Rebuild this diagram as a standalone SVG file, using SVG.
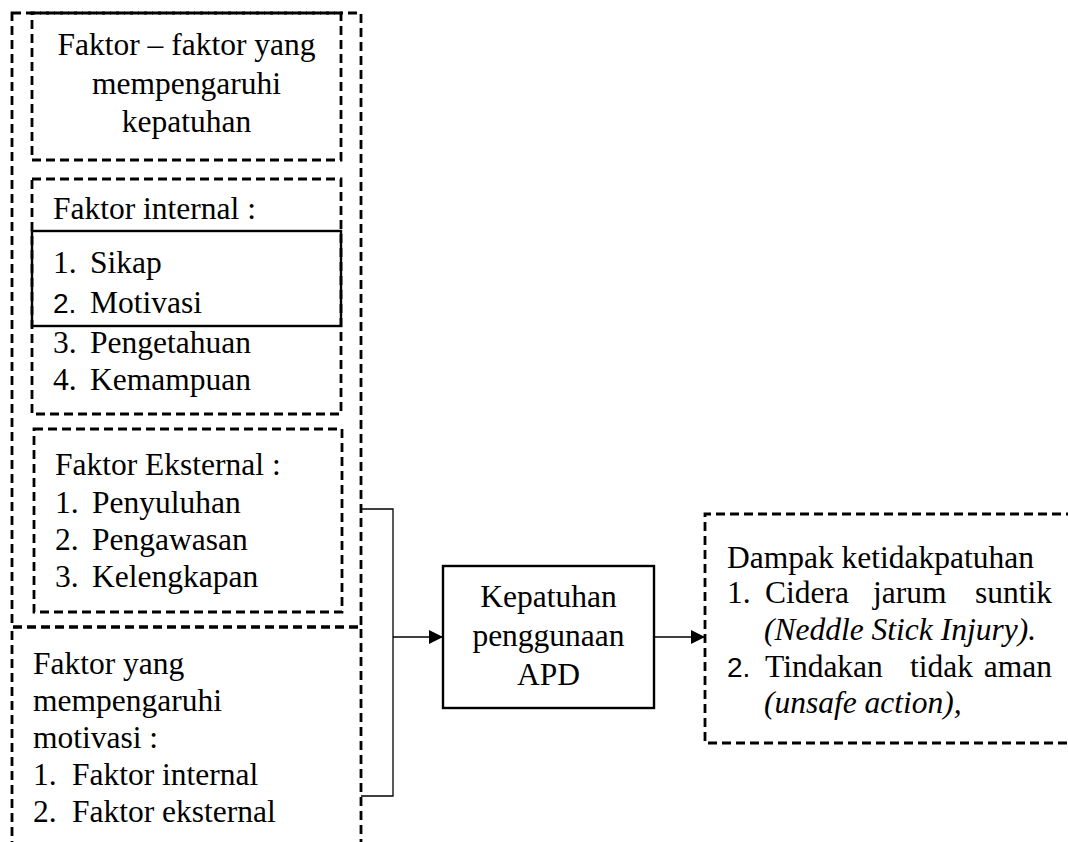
<svg xmlns="http://www.w3.org/2000/svg" width="1068" height="842" viewBox="0 0 1068 842">
<style>
.d{fill:none;stroke:#000;stroke-width:2.8;stroke-dasharray:9 5}
.s{fill:none;stroke:#000;stroke-width:2.4}
.c{fill:none;stroke:#000;stroke-width:1.3}
text{font-family:'Liberation Serif','Times New Roman',Tinos,'DejaVu Serif',serif;font-size:31.5px;fill:#000}
.m{text-anchor:middle}
.e{text-anchor:end}
.i{font-style:italic}
.n{font-family:'Liberation Sans',Arial,sans-serif;font-size:28px}
</style>
<defs>
<marker id="ah" viewBox="0 0 10 10" refX="10" refY="5" markerWidth="14" markerHeight="14" markerUnits="userSpaceOnUse" orient="auto">
<path d="M0,0 L10,5 L0,10 z" fill="#000"/>
</marker>
</defs>
<rect width="1068" height="842" fill="#fff"/>
<g id="outer">
<rect class="d" x="12" y="13" width="349" height="614"/>
</g>
<g id="box-kepatuhan-faktor">
<rect class="d" x="32" y="13" width="309" height="147"/>
<text class="m" x="186.5" y="55">Faktor – faktor yang</text>
<text class="m" x="186.5" y="94">mempengaruhi</text>
<text class="m" x="186.5" y="132">kepatuhan</text>
</g>
<g id="box-internal">
<rect class="d" x="32" y="179" width="309" height="235"/>
<rect class="s" x="32" y="231" width="309" height="95"/>
<text x="53" y="219">Faktor internal :</text>
<text x="53" y="273">1.</text><text x="90" y="273">Sikap</text>
<text class="n" x="53" y="313">2.</text><text x="90" y="313">Motivasi</text>
<text x="53" y="353">3.</text><text x="90" y="353">Pengetahuan</text>
<text x="53" y="390">4.</text><text x="90" y="390">Kemampuan</text>
</g>
<g id="box-eksternal">
<rect class="d" x="34" y="429" width="308" height="183"/>
<text x="55" y="475">Faktor Eksternal :</text>
<text x="55" y="513">1.</text><text x="92" y="513">Penyuluhan</text>
<text x="55" y="550">2.</text><text x="92" y="550">Pengawasan</text>
<text x="55" y="587">3.</text><text x="92" y="587">Kelengkapan</text>
</g>
<g id="box-motivasi">
<path class="d" d="M12,850 V627 H361 V850"/>
<text x="33" y="674">Faktor yang</text>
<text x="33" y="711">mempengaruhi</text>
<text x="33" y="748">motivasi  :</text>
<text x="33" y="785">1.</text><text x="72" y="785">Faktor internal</text>
<text x="33" y="822">2.</text><text x="72" y="822">Faktor eksternal</text>
</g>
<g id="box-apd">
<rect class="s" x="443" y="566" width="211" height="142"/>
<text class="m" x="548.5" y="607">Kepatuhan</text>
<text class="m" x="548.5" y="646">penggunaan</text>
<text class="m" x="548.5" y="685">APD</text>
</g>
<g id="box-dampak">
<path class="d" d="M1075,514 H705 V743 H1075"/>
<text x="727" y="568">Dampak ketidakpatuhan</text>
<text x="727" y="603">1.</text><text x="765" y="603">Cidera</text><text x="873" y="603">jarum</text><text class="e" x="1052" y="603">suntik</text>
<text class="i" x="764" y="640">(Neddle Stick Injury).</text>
<text class="n" x="727" y="677">2.</text><text x="765" y="677">Tindakan</text><text x="910" y="677">tidak</text><text class="e" x="1052" y="677">aman</text>
<text class="i" x="764" y="713">(unsafe action),</text>
</g>
<g id="connectors">
<path class="c" d="M361,509 H393 V796 H361"/>
<line class="c" x1="393" y1="637" x2="443" y2="637" marker-end="url(#ah)"/>
<line class="c" x1="654" y1="637" x2="705" y2="637" marker-end="url(#ah)"/>
</g>
</svg>
